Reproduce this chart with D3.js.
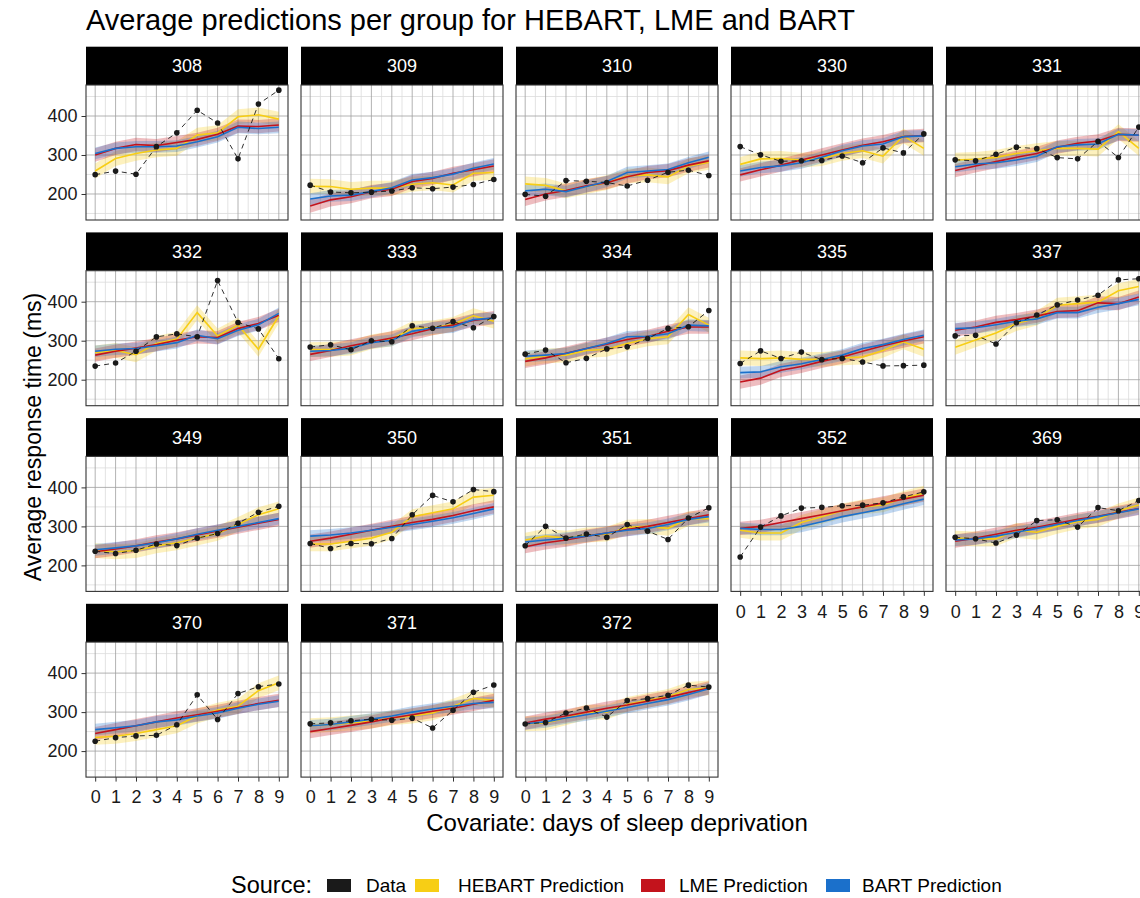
<!DOCTYPE html>
<html><head><meta charset="utf-8">
<script src="https://cdn.jsdelivr.net/npm/d3@7"></script>
<style>body{margin:0;background:#fff;} svg text{font-family:"Liberation Sans", Arial, Helvetica, sans-serif;}</style>
</head><body><svg id="chart" width="1140" height="898"></svg>
<script>
const chartTitle = "Average predictions per group for HEBART, LME and BART";
const xTitle = "Covariate: days of sleep deprivation";
const yTitle = "Average response time (ms)";
const legendTitle = "Source:";
const subjects = ["308","309","310","330","331","332","333","334","335","337","349","350","351","352","369","370","371","372"];
const days = [0,1,2,3,4,5,6,7,8,9];
const yTicks = [200,300,400];
const yMinor = [150,250,350,450];
const xMinor = [0.5,1.5,2.5,3.5,4.5,5.5,6.5,7.5,8.5,-0.5,9.5];
const sourceNames = ["Data","HEBART Prediction","LME Prediction","BART Prediction"];
const sourceColors = ["#1a1a1a","#F7CE15","#C3131C","#1B70CB"];
// band half-widths (ms) of the prediction ribbons
const bandHalfWidth = [0,19,17,15];

const dataRT = [
 [249.56,258.70,250.80,321.44,356.85,414.69,382.20,290.15,430.59,466.35],
 [222.73,205.27,202.98,204.71,207.72,215.96,213.63,217.73,224.30,237.31],
 [199.05,194.33,234.32,232.84,229.31,220.46,235.42,255.75,261.01,247.52],
 [321.54,300.40,283.86,285.13,285.80,297.59,280.24,318.26,305.35,354.05],
 [287.61,285.00,301.82,320.12,316.28,293.32,290.08,334.82,293.75,371.58],
 [234.86,242.81,272.96,309.77,317.46,309.99,454.16,346.83,330.30,253.86],
 [283.84,289.56,276.77,299.80,297.17,338.17,332.02,348.84,333.36,362.04],
 [265.48,276.20,243.36,254.67,279.02,284.19,305.53,331.50,335.75,377.30],
 [241.61,273.95,254.49,270.80,251.45,254.64,245.45,235.31,235.98,237.25],
 [312.36,313.80,291.61,346.12,365.73,391.84,404.26,416.69,455.86,458.92],
 [236.10,230.32,238.92,254.92,250.71,269.77,281.56,308.10,336.28,351.65],
 [256.29,243.46,256.20,255.53,268.92,329.72,379.44,362.91,394.49,389.05],
 [250.53,300.06,269.89,280.58,271.83,304.63,287.75,266.56,321.54,347.57],
 [221.68,298.19,326.88,346.86,348.74,352.83,354.43,360.43,375.64,388.54],
 [271.92,268.44,257.24,277.66,314.82,317.21,298.14,348.13,340.28,366.51],
 [225.26,234.52,238.90,240.47,267.54,344.19,281.15,347.58,365.16,372.23],
 [269.88,272.44,277.90,281.79,279.17,284.51,259.27,304.63,350.78,369.47],
 [269.41,273.47,297.60,310.63,287.17,329.61,334.48,343.22,369.14,364.12]
];
const hebartPred = [
 [259,291,304,313,317,351,357,398,403,392],
 [220,219,212,215,215,225,229,223,253,255],
 [226,222,208,219,229,246,249,244,272,281],
 [276,290,291,287,291,304,311,297,349,317],
 [287,289,294,304,311,317,317,315,360,317],
 [269,275,264,293,304,372,312,340,278,364],
 [277,278,281,297,305,331,333,342,364,350],
 [253,261,263,275,278,293,305,310,367,340],
 [256,254,256,252,252,256,258,275,297,278],
 [283,302,320,344,358,391,395,399,428,439],
 [238,235,238,250,258,270,282,305,330,345],
 [255,255,262,270,285,325,335,345,375,380],
 [265,275,270,278,280,298,300,295,320,320],
 [290,283,283,310,325,340,350,355,372,385],
 [270,268,268,290,285,300,312,318,340,355],
 [235,238,245,255,265,290,305,315,355,375],
 [265,268,272,277,285,290,298,315,335,330],
 [270,272,285,300,300,320,330,340,358,362]
];
const lmePred = [
 [300,317,327,324,332,340,353,374,373,377],
 [169,185,193,206,212,232,240,253,262,272],
 [186,200,209,221,229,244,255,260,274,285],
 [249,262,274,287,300,313,325,334,347,350],
 [260,272,283,294,304,320,330,336,353,351],
 [263,273,281,290,301,310,308,331,344,365],
 [265,275,287,297,307,318,331,340,352,359],
 [247,256,268,280,291,303,311,324,335,335],
 [194,204,224,234,247,258,273,287,299,310],
 [327,335,347,354,363,375,377,397,395,412],
 [235,242,250,260,268,278,288,298,308,318],
 [262,270,280,290,300,310,318,328,340,350],
 [248,258,265,275,283,292,300,310,320,330],
 [295,300,310,320,330,340,350,360,370,380],
 [262,270,280,290,298,308,318,326,336,346],
 [245,255,265,275,285,293,302,312,322,330],
 [250,258,266,275,285,293,302,310,320,330],
 [272,282,290,300,310,318,328,338,350,362]
];
const bartPred = [
 [304,317,321,321,323,334,347,371,368,371],
 [187,195,197,206,216,236,242,251,266,277],
 [208,212,206,219,232,255,259,263,280,294],
 [259,268,272,280,294,311,323,328,347,349],
 [270,277,280,287,297,321,326,328,353,351],
 [273,278,280,287,295,314,305,327,341,370],
 [273,275,281,295,301,324,333,335,354,358],
 [260,263,267,280,293,310,311,318,340,338],
 [218,220,233,241,252,263,280,290,303,314],
 [331,333,341,350,356,372,372,386,395,406],
 [240,245,250,258,268,280,290,300,310,320],
 [275,278,283,290,298,305,313,322,333,345],
 [260,265,270,275,283,290,295,305,318,325],
 [295,292,292,300,312,325,335,345,358,370],
 [265,268,275,285,295,305,315,325,335,345],
 [255,260,265,275,280,290,298,310,320,328],
 [265,268,275,282,290,300,308,315,322,325],
 [270,275,285,293,302,312,322,332,345,360]
];
const predSeries = [null, hebartPred, lmePred, bartPred];

const svg = d3.select("#chart");
const nCols = 5, panelW = 202, colStep = 215, left0 = 86;
const stripTop0 = 46.7, rowStep = 185.7, stripH = 38.3, panelH = 135;
const x = d3.scaleLinear().domain([-0.45, 9.45]).range([0, panelW]);
const y = d3.scaleLinear().domain([133.3, 479.5]).range([panelH, 0]);

svg.append("text").attr("x", 86).attr("y", 30).attr("font-size", 29).attr("fill", "#000").text(chartTitle);

subjects.forEach((s, i) => {
  const r = Math.floor(i / nCols), c = i % nCols;
  const px = left0 + c * colStep;
  const sy = stripTop0 + r * rowStep;
  const py = sy + stripH;
  svg.append("rect").attr("x", px).attr("y", sy).attr("width", panelW).attr("height", stripH).attr("fill", "#000");
  svg.append("text").attr("x", px + panelW / 2).attr("y", sy + stripH / 2).attr("dy", "0.36em")
    .attr("text-anchor", "middle").attr("font-size", 18).attr("fill", "#fff").text(s);
  const g = svg.append("g").attr("transform", `translate(${px},${py})`);
  const clipId = "clip" + i;
  g.append("clipPath").attr("id", clipId).append("rect").attr("width", panelW).attr("height", panelH);
  g.append("rect").attr("width", panelW).attr("height", panelH).attr("fill", "#fff");
  const grid = g.append("g").attr("clip-path", `url(#${clipId})`);
  grid.selectAll(".vmin").data(xMinor).join("line").attr("x1", d => x(d)).attr("x2", d => x(d))
    .attr("y1", 0).attr("y2", panelH).attr("stroke", "#dcdcdc").attr("stroke-width", 0.8);
  grid.selectAll(".hmin").data(yMinor).join("line").attr("y1", d => y(d)).attr("y2", d => y(d))
    .attr("x1", 0).attr("x2", panelW).attr("stroke", "#dcdcdc").attr("stroke-width", 0.8);
  grid.selectAll(".vmaj").data(days).join("line").attr("x1", d => x(d)).attr("x2", d => x(d))
    .attr("y1", 0).attr("y2", panelH).attr("stroke", "#a0a0a0").attr("stroke-width", 0.8);
  grid.selectAll(".hmaj").data(yTicks).join("line").attr("y1", d => y(d)).attr("y2", d => y(d))
    .attr("x1", 0).attr("x2", panelW).attr("stroke", "#a0a0a0").attr("stroke-width", 0.8);

  const plot = g.append("g").attr("clip-path", `url(#${clipId})`);
  [1, 2, 3].forEach(k => {
    const vals = predSeries[k][i];
    const area = d3.area().x((d, j) => x(days[j])).y0(d => y(d - bandHalfWidth[k])).y1(d => y(d + bandHalfWidth[k]));
    plot.append("path").datum(vals).attr("d", area).attr("fill", sourceColors[k]).attr("fill-opacity", 0.28);
  });
  [1, 2, 3].forEach(k => {
    const vals = predSeries[k][i];
    const line = d3.line().x((d, j) => x(days[j])).y(d => y(d));
    plot.append("path").datum(vals).attr("d", line).attr("fill", "none")
      .attr("stroke", sourceColors[k]).attr("stroke-width", 1.6);
  });
  const dline = d3.line().x((d, j) => x(days[j])).y(d => y(d));
  plot.append("path").datum(dataRT[i]).attr("d", dline).attr("fill", "none")
    .attr("stroke", "#1a1a1a").attr("stroke-width", 0.9).attr("stroke-dasharray", "5,4");
  plot.selectAll(".pt").data(dataRT[i]).join("circle").attr("cx", (d, j) => x(days[j])).attr("cy", d => y(d))
    .attr("r", 2.8).attr("fill", "#1a1a1a");
  g.append("rect").attr("width", panelW).attr("height", panelH).attr("fill", "none")
    .attr("stroke", "#333").attr("stroke-width", 1.1);

  if (c === 0) {
    const ya = d3.axisLeft(y).tickValues(yTicks).tickSize(4.5).tickPadding(4);
    const ag = g.append("g").call(ya);
    ag.select(".domain").remove();
    ag.selectAll("line").attr("stroke", "#333");
    ag.selectAll("text").attr("font-size", 18).attr("fill", "#1a1a1a").style("font-family", "Liberation Sans, Arial, sans-serif");
  }
  if (i + nCols >= subjects.length) {
    const xa = d3.axisBottom(x).tickValues(days).tickFormat(d3.format("d")).tickSize(4.5).tickPadding(9);
    const ag = g.append("g").attr("transform", `translate(0,${panelH})`).call(xa);
    ag.select(".domain").remove();
    ag.selectAll("line").attr("stroke", "#333");
    ag.selectAll("text").attr("font-size", 18).attr("fill", "#1a1a1a").style("font-family", "Liberation Sans, Arial, sans-serif");
  }
});

svg.append("text").attr("x", 617).attr("y", 831).attr("text-anchor", "middle").attr("font-size", 24).attr("fill", "#000").text(xTitle);
svg.append("text").attr("transform", "translate(41,437) rotate(-90)").attr("text-anchor", "middle").attr("font-size", 23).attr("fill", "#000").text(yTitle);

const leg = svg.append("g");
leg.append("text").attr("x", 231).attr("y", 893).attr("font-size", 23.5).attr("fill", "#000").text(legendTitle);
const keyX = [327, 415, 641, 826];
const textX = [366, 458, 679, 862];
sourceNames.forEach((nm, k) => {
  leg.append("rect").attr("x", keyX[k]).attr("y", 879).attr("width", 24).attr("height", 13).attr("fill", sourceColors[k]);
  leg.append("text").attr("x", textX[k]).attr("y", 892).attr("font-size", 19).attr("fill", "#000").text(nm);
});
</script></body></html>
